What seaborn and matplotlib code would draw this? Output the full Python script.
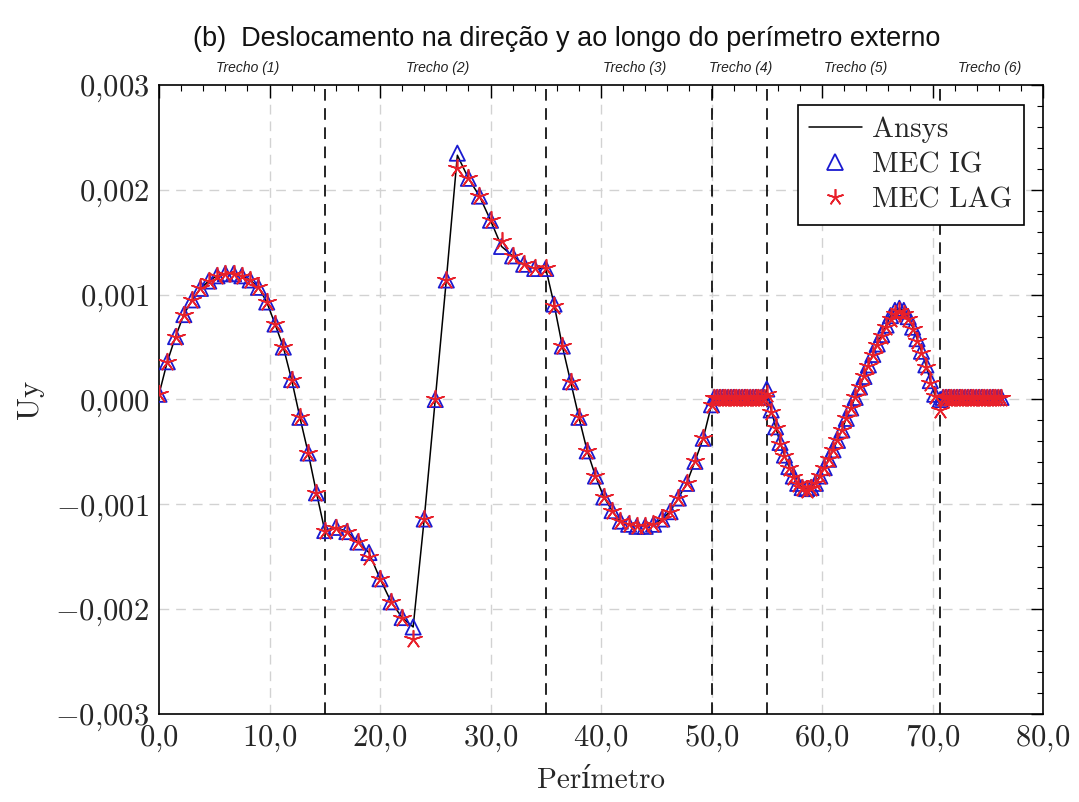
import matplotlib
matplotlib.use("Agg")
import matplotlib.pyplot as plt
from matplotlib.lines import Line2D
import matplotlib.transforms as mtransforms
import seaborn as sns
import pandas as pd

# ---------------- data ----------------
perimetro = [
    0.0, 0.75, 1.5, 2.25, 3.0, 3.75, 4.5, 5.25, 6.0, 6.75, 7.5, 8.25, 9.0, 9.75,
    10.5, 11.25, 12.0, 12.75, 13.5, 14.25, 15.0,
    16.0, 17.0, 18.0, 19.0, 20.0, 21.0, 22.0, 23.0, 24.0, 25.0, 26.0, 27.0, 28.0,
    29.0, 30.0, 31.0, 32.0, 33.0, 34.0, 35.0,
    35.75, 36.5, 37.25, 38.0, 38.75, 39.5, 40.25, 41.0, 41.75, 42.5, 43.25, 44.0,
    44.75, 45.5, 46.25, 47.0, 47.75, 48.5, 49.25, 50.0,
    50.25, 50.5, 50.75, 51.0, 51.25, 51.5, 51.75, 52.0, 52.25, 52.5, 52.75, 53.0,
    53.25, 53.5, 53.75, 54.0, 54.25, 54.5, 54.75, 55.0,
    55.4, 55.8, 56.2, 56.6, 57.0, 57.4, 57.8, 58.2, 58.6, 59.0, 59.4, 59.8, 60.2,
    60.6, 61.0, 61.4, 61.8, 62.2, 62.6, 63.0, 63.4, 63.8, 64.2, 64.6, 65.0, 65.4,
    65.8, 66.2, 66.6, 67.0, 67.4, 67.8, 68.2, 68.6, 69.0, 69.4, 69.8, 70.2, 70.7,
    70.95, 71.2, 71.45, 71.7, 71.95, 72.2, 72.45, 72.7, 72.95, 73.2, 73.45, 73.7,
    73.95, 74.2, 74.45, 74.7, 74.95, 75.2, 75.45, 75.7, 75.95, 76.2,
]

# values in units of 1e-3
uy_ansys = [
    0.05, 0.36, 0.60, 0.81, 0.95, 1.06, 1.13, 1.18, 1.20, 1.20, 1.18, 1.14, 1.07, 0.93,
    0.72, 0.50, 0.19, -0.17, -0.51, -0.89, -1.25,
    -1.22, -1.26, -1.36, -1.46, -1.71, -1.93, -2.08, -2.17, -1.14, 0.00, 1.14, 2.33, 2.11,
    1.94, 1.71, 1.46, 1.37, 1.29, 1.25, 1.25,
    0.91, 0.51, 0.17, -0.17, -0.49, -0.73, -0.93, -1.06, -1.16, -1.19, -1.21, -1.21,
    -1.19, -1.14, -1.07, -0.94, -0.80, -0.59, -0.37, -0.05,
    0.02, 0.02, 0.02, 0.02, 0.02, 0.02, 0.02, 0.02, 0.02, 0.02, 0.02, 0.02,
    0.02, 0.02, 0.02, 0.02, 0.02, 0.02, 0.02, 0.10,
    -0.10, -0.26, -0.41, -0.53, -0.64, -0.73, -0.80, -0.84, -0.85, -0.84, -0.80, -0.73, -0.65,
    -0.57, -0.48, -0.39, -0.29, -0.18, -0.08, 0.02, 0.12, 0.22, 0.33, 0.43, 0.53, 0.62,
    0.71, 0.80, 0.85, 0.87, 0.85, 0.79, 0.69, 0.58, 0.46, 0.33, 0.18, 0.05, -0.03,
    0.02, 0.02, 0.02, 0.02, 0.02, 0.02, 0.02, 0.02, 0.02, 0.02, 0.02, 0.02,
    0.02, 0.02, 0.02, 0.02, 0.02, 0.02, 0.02, 0.02, 0.02, 0.02,
]

uy_mec_ig = [
    0.05, 0.36, 0.60, 0.81, 0.95, 1.06, 1.13, 1.18, 1.20, 1.20, 1.18, 1.14, 1.07, 0.93,
    0.72, 0.50, 0.19, -0.17, -0.51, -0.89, -1.25,
    -1.22, -1.26, -1.36, -1.46, -1.71, -1.93, -2.08, -2.17, -1.14, 0.00, 1.14, 2.35, 2.11,
    1.94, 1.71, 1.46, 1.37, 1.29, 1.25, 1.25,
    0.91, 0.51, 0.17, -0.17, -0.49, -0.73, -0.93, -1.06, -1.16, -1.19, -1.21, -1.21,
    -1.19, -1.14, -1.07, -0.94, -0.80, -0.59, -0.37, -0.05,
    0.02, 0.02, 0.02, 0.02, 0.02, 0.02, 0.02, 0.02, 0.02, 0.02, 0.02, 0.02,
    0.02, 0.02, 0.02, 0.02, 0.02, 0.02, 0.02, 0.10,
    -0.10, -0.26, -0.41, -0.53, -0.64, -0.73, -0.80, -0.84, -0.85, -0.84, -0.80, -0.73, -0.65,
    -0.57, -0.48, -0.39, -0.29, -0.18, -0.08, 0.02, 0.12, 0.22, 0.33, 0.43, 0.53, 0.62,
    0.71, 0.80, 0.85, 0.87, 0.85, 0.79, 0.69, 0.58, 0.46, 0.33, 0.18, 0.05, 0.00,
    0.02, 0.02, 0.02, 0.02, 0.02, 0.02, 0.02, 0.02, 0.02, 0.02, 0.02, 0.02,
    0.02, 0.02, 0.02, 0.02, 0.02, 0.02, 0.02, 0.02, 0.02, 0.02,
]

uy_mec_lag = [
    0.05, 0.36, 0.60, 0.81, 0.95, 1.06, 1.13, 1.18, 1.20, 1.20, 1.18, 1.14, 1.07, 0.93,
    0.72, 0.50, 0.19, -0.17, -0.51, -0.89, -1.25,
    -1.23, -1.26, -1.36, -1.50, -1.71, -1.93, -2.08, -2.28, -1.14, 0.00, 1.14, 2.21, 2.11,
    1.94, 1.71, 1.51, 1.37, 1.29, 1.25, 1.25,
    0.89, 0.51, 0.17, -0.17, -0.49, -0.73, -0.93, -1.06, -1.16, -1.19, -1.21, -1.21,
    -1.19, -1.14, -1.07, -0.94, -0.80, -0.59, -0.37, -0.05,
    0.01, 0.01, 0.01, 0.01, 0.01, 0.01, 0.01, 0.01, 0.01, 0.01, 0.01, 0.01,
    0.01, 0.01, 0.01, 0.01, 0.01, 0.01, 0.01, 0.05,
    -0.12, -0.27, -0.42, -0.54, -0.65, -0.74, -0.81, -0.84, -0.86, -0.84, -0.80, -0.73, -0.65,
    -0.57, -0.48, -0.39, -0.29, -0.18, -0.08, 0.02, 0.12, 0.22, 0.32, 0.42, 0.52, 0.61,
    0.69, 0.77, 0.82, 0.84, 0.82, 0.77, 0.67, 0.56, 0.44, 0.31, 0.16, 0.03, -0.10,
    0.01, 0.01, 0.01, 0.01, 0.01, 0.01, 0.01, 0.01, 0.01, 0.01, 0.01, 0.01,
    0.01, 0.01, 0.01, 0.01, 0.01, 0.01, 0.01, 0.01, 0.01, 0.01,
]

trecho_labels = ["Trecho (1)", "Trecho (2)", "Trecho (3)", "Trecho (4)", "Trecho (5)", "Trecho (6)"]
trecho_centers = [8.05, 25.2, 43.0, 52.6, 63.0, 75.2]
trecho_limits = [15.0, 35.0, 50.0, 55.0, 70.7]

x_ticks = [0, 10, 20, 30, 40, 50, 60, 70, 80]
x_tick_labels = ["0,0", "10,0", "20,0", "30,0", "40,0", "50,0", "60,0", "70,0", "80,0"]
y_ticks = [-0.003, -0.002, -0.001, 0.0, 0.001, 0.002, 0.003]
y_tick_labels = ["-0,003", "-0,002", "-0,001", "0,000", "0,001", "0,002", "0,003"]

title_text = "(b)  Deslocamento na direção y ao longo do perímetro externo"

# ---------------- style ----------------
sns.set_theme(style="white")
plt.rcParams["mathtext.fontset"] = "cm"
plt.rcParams["font.family"] = ["cmr10", "DejaVu Serif"]
plt.rcParams["axes.unicode_minus"] = False

df = pd.DataFrame({
    "Perimetro": perimetro,
    "Ansys": [v * 1e-3 for v in uy_ansys],
    "MEC IG": [v * 1e-3 for v in uy_mec_ig],
    "MEC LAG": [v * 1e-3 for v in uy_mec_lag],
})

W, H = 1079, 802
ax_l, ax_r, ax_t, ax_b = 159, 1043, 85, 714
fig = plt.figure(figsize=(W / 100, H / 100), dpi=100)
ax = fig.add_axes([ax_l / W, 1 - ax_b / H, (ax_r - ax_l) / W, (ax_b - ax_t) / H])

# grid
for xt in x_ticks[1:-1]:
    ax.axvline(xt, color="#d2d2d2", lw=1.0, ls=(0, (7, 5)), zorder=0)
for yt in y_ticks[1:-1]:
    ax.axhline(yt, color="#d2d2d2", lw=1.0, ls=(0, (7, 5)), zorder=0)

# section limits
for xl in trecho_limits:
    ax.axvline(xl, color="black", lw=1.2, ls=(0, (7, 4.5)), zorder=1)

sns.lineplot(data=df, x="Perimetro", y="Ansys", sort=False, color="black", lw=1.1,
             ax=ax, zorder=2, legend=False)
sns.scatterplot(data=df, x="Perimetro", y="MEC IG", marker="^", s=120,
                facecolors="none", edgecolor="#1a1ad0", linewidth=1.3, ax=ax, zorder=3,
                legend=False)
sns.scatterplot(data=df, x="Perimetro", y="MEC LAG", marker=(5, 2, 0), s=160,
                color="#e8202a", edgecolor="#e8202a", linewidth=1.2, ax=ax, zorder=4,
                legend=False)

ax.set_xlim(0, 80)
ax.set_ylim(-0.003, 0.003)
ax.set_xticks(x_ticks)
ax.set_xticklabels(["$" + t.replace(",", "{,}") + "$" for t in x_tick_labels])
ax.set_yticks(y_ticks)
ax.set_yticklabels(["$" + t.replace(",", "{,}") + "$" for t in y_tick_labels])
ax.set_xticks([v for v in range(0, 81, 2) if v % 10 != 0], minor=True)
ax.set_yticks([i * 0.0002 for i in range(-15, 16) if i % 5 != 0], minor=True)
ax.tick_params(axis="both", which="major", direction="in", length=9, width=1.0,
               top=True, right=True, labelsize=22, color="black", pad=7)
ax.tick_params(axis="both", which="minor", direction="in", length=4.5, width=0.8,
               top=True, right=True, color="black")
for sp in ax.spines.values():
    sp.set_color("black")
    sp.set_linewidth(1.2)

ax.set_xlabel("Perímetro", fontsize=21, labelpad=10)
ax.set_ylabel("Uy", fontsize=22, labelpad=8)

# section labels
trans = mtransforms.blended_transform_factory(ax.transData, ax.transAxes)
for lab, xc in zip(trecho_labels, trecho_centers):
    ax.text(xc, (ax_b - 68) / (ax_b - ax_t), lab, transform=trans, ha="center",
            va="center", fontsize=10, style="italic", family="Liberation Sans",
            color="#222222")

fig.text(567 / W, 1 - 39 / H, title_text, ha="center", va="center",
         fontsize=19.5, family="Liberation Sans", color="#111111")

handles = [
    Line2D([0], [0], color="black", lw=1.1),
    Line2D([0], [0], marker="^", ls="none", markersize=11, markerfacecolor="none",
           markeredgecolor="#1a1ad0", markeredgewidth=1.3),
    Line2D([0], [0], marker=(5, 2, 0), ls="none", markersize=12,
           color="#e8202a", markeredgewidth=1.2),
]
leg = ax.legend(handles, ["Ansys", "MEC IG", "MEC LAG"], loc="upper right",
                bbox_to_anchor=(1 - 19 / (ax_r - ax_l), 1 - 20 / (ax_b - ax_t)),
                fontsize=21, frameon=True, fancybox=False, framealpha=1,
                edgecolor="black", borderpad=0.4, labelspacing=0.3,
                handlelength=1.8, handletextpad=0.35, borderaxespad=0)
leg.get_frame().set_linewidth(1.2)

fig.savefig("out.png", dpi=100)
